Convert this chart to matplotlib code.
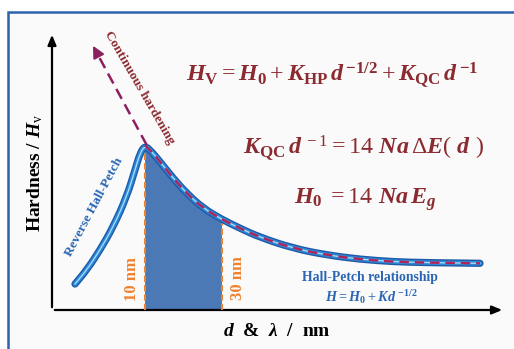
import matplotlib
matplotlib.use("Agg")
import matplotlib.pyplot as plt
import numpy as np
from matplotlib.patches import Rectangle, PathPatch
from matplotlib.path import Path

plt.rcParams['font.family'] = ['Liberation Serif', 'DejaVu Serif']
plt.rcParams['mathtext.fontset'] = 'custom'
plt.rcParams['mathtext.rm'] = 'Liberation Serif'
plt.rcParams['mathtext.it'] = 'Liberation Serif:italic:bold'
plt.rcParams['mathtext.bf'] = 'Liberation Serif:bold'

# ---- schematic data (arbitrary units: d & lambda vs hardness) ----
curve_x = [23, 34.7, 48, 61.3, 74.7, 83, 88, 93, 99.7, 108, 121.3, 134.7,
           151.3, 169.7, 188, 208, 241.3, 274.7, 308, 341.3, 374.7, 428]
curve_y = [26, 40, 60, 83.3, 113.3, 140, 156.7, 164.5, 158.3, 148.3, 131.7, 116.7,
           101.7, 90.7, 81.7, 72.7, 61.7, 55, 50.7, 48.3, 47.3, 46.7]
peak_index = 7
band_lo, band_hi = 93, 170          # 10 nm and 30 nm
band_labels = ["10 nm", "30 nm"]
arrow_start = (94.7, 165)
arrow_end = (39.7, 266.7)


def smooth_path(xs, ys, close_to_base=False):
    pts = list(zip(xs, ys))
    verts = [pts[0]]
    codes = [Path.MOVETO]
    mid = ((pts[0][0] + pts[1][0]) / 2, (pts[0][1] + pts[1][1]) / 2)
    verts.append(mid)
    codes.append(Path.LINETO)
    for i in range(1, len(pts) - 1):
        if i < len(pts) - 2:
            end = ((pts[i][0] + pts[i + 1][0]) / 2, (pts[i][1] + pts[i + 1][1]) / 2)
        else:
            end = pts[i + 1]
        verts += [pts[i], end]
        codes += [Path.CURVE3, Path.CURVE3]
    if close_to_base:
        verts += [(pts[-1][0], 0), (pts[0][0], 0), pts[0]]
        codes += [Path.LINETO, Path.LINETO, Path.CLOSEPOLY]
    return Path(verts, codes)


W, H = 514, 349
fig = plt.figure(figsize=(W / 100, H / 100), dpi=100)
fig.patch.set_facecolor('white')

bg = fig.add_axes([0, 0, 1, 1])
bg.set_xlim(0, W)
bg.set_ylim(H, 0)
bg.axis('off')
bg.add_patch(Rectangle((7.5, 12), 520, 350, facecolor='#fafafa', edgecolor='#2d63ad', lw=1.8))

ax = fig.add_axes([52 / W, (H - 310) / H, 453 / W, 278 / H])
ax.set_xlim(0, 453)
ax.set_ylim(0, 278)
ax.axis('off')
ax.patch.set_alpha(0)

# axes arrows
for tip in [(453, 0), (0, 278)]:
    ax.annotate('', xy=tip, xytext=(0, 0),
                arrowprops=dict(arrowstyle='-|>,head_length=0.6,head_width=0.25', color='black', lw=1.6),
                annotation_clip=False)

# area under curve (used for the band fill and clipping the orange lines)
area = PathPatch(smooth_path(curve_x, curve_y, close_to_base=True), facecolor='none', edgecolor='none')
ax.add_patch(area)
band = Rectangle((band_lo, 0), band_hi - band_lo, 278, facecolor='#4b79b5', edgecolor='none', zorder=2)
ax.add_patch(band)
band.set_clip_path(area)
for bx in (band_lo, band_hi):
    ln, = ax.plot([bx, bx], [0, 278], color='#f0822d', lw=1.5, ls=(0, (3, 1.5)), zorder=3)
    ln.set_clip_path(area)

# the curve
curve_path = smooth_path(curve_x, curve_y)
for col, lw, z in [('#1d5aa8', 5.2, 4), ('#2f8ad6', 3.2, 5), ('#a6e0ff', 0.9, 6)]:
    ax.add_patch(PathPatch(curve_path, facecolor='none', edgecolor=col, lw=lw,
                           capstyle='round', joinstyle='round', zorder=z))
ax.add_patch(PathPatch(smooth_path(curve_x[peak_index:], curve_y[peak_index:]), facecolor='none',
                       edgecolor='#b0245a', lw=1.7, ls=(0, (4, 2.5)), zorder=7))

# continuous hardening arrow
ax.plot([arrow_start[0], arrow_end[0] + 4], [arrow_start[1], arrow_end[1] - 7.5],
        color='#8e1f5e', lw=1.8, ls=(0, (4.5, 2.5)), zorder=7)
ax.annotate('', xy=arrow_end, xytext=(arrow_end[0] + 4.5, arrow_end[1] - 8.5),
            arrowprops=dict(arrowstyle='-|>,head_length=0.7,head_width=0.35', color='#8e1f5e', lw=1.5),
            annotation_clip=False, zorder=8)

red = '#8b2a30'
blue = '#2a66b4'
orange = '#f0822d'

ax.text(87, 222, 'Continuous hardening', rotation=-60, rotation_mode='anchor',
        ha='center', va='center', color=red, fontsize=9.6, fontweight='bold')
ax.text(42, 103, 'Reverse Hall-Petch', rotation=62, rotation_mode='anchor',
        ha='center', va='center', color=blue, fontsize=9.6, fontweight='bold')
ax.text(79.7, 30.5, band_labels[0], rotation=90, ha='center', va='center',
        color=orange, fontsize=12, fontweight='bold')
ax.text(186, 32, band_labels[1], rotation=90, ha='center', va='center',
        color=orange, fontsize=12, fontweight='bold')

ax.text(280.5, 235, r'$H_{\mathbf{V}}=H_{\mathbf{0}}+K_{\mathbf{HP}}\,d^{\,\mathbf{-1/2}}+K_{\mathbf{QC}}\,d^{\,\mathbf{-1}}$',
        ha='center', va='center', color=red, fontsize=17.3)
ax.text(311.5, 162, r'$K_{\mathbf{QC}}\,d^{\,-1}=14\ Na\,\Delta E(\ d\ )$',
        ha='center', va='center', color=red, fontsize=17.3)
ax.text(313, 110, r'$H_{\mathbf{0}}\;=14\ Na\,E_{g}$',
        ha='center', va='center', color=red, fontsize=17.3)

ax.text(318, 32, 'Hall-Petch relationship', ha='center', va='center', color=blue,
        fontsize=9.9, fontweight='bold')
ax.text(319, 13, r'$H=H_{\mathbf{0}}+Kd^{\ \mathbf{-1/2}}$', ha='center', va='center', color=blue,
        fontsize=10.3)

fig.text(35 / W, 1 - 173 / H, r'Hardness / $H_{\mathrm{v}}$', rotation=90, ha='center', va='center',
         fontsize=14, fontweight='bold')
fig.text(277 / W, 1 - 332 / H, r'$d$  &  $\lambda$  /  nm', ha='center', va='center',
         fontsize=14, fontweight='bold')

fig.savefig('out.png', dpi=100)
